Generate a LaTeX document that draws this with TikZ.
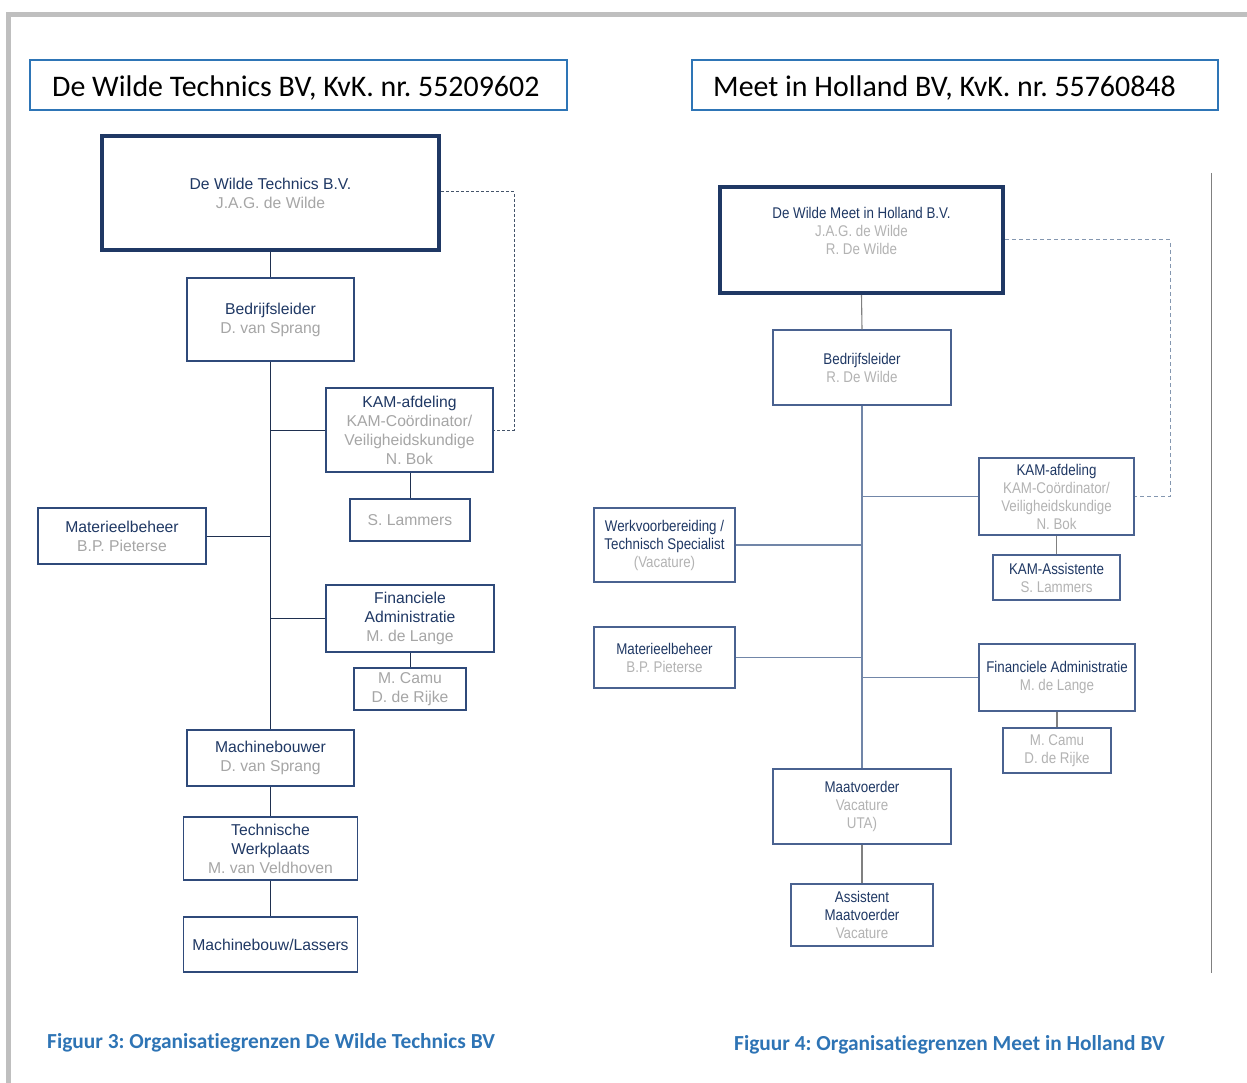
\documentclass[tikz,border=0pt]{standalone}
\usepackage{fontspec}
\setmainfont{Liberation Sans}
\newfontfamily\narrowfont{Liberation Sans}[FakeStretch=0.86]
\newfontfamily\calibrifont{Carlito}[Ligatures=NoCommon]
\frenchspacing
\definecolor{navytxt}{HTML}{1F3864}
\definecolor{graytxt}{HTML}{A6A6A6}
\definecolor{graytxtr}{HTML}{B3B3B3}
\definecolor{boxc}{HTML}{2F4A7A}
\definecolor{boxcr}{HTML}{4A6290}
\definecolor{thickc}{HTML}{1F3864}
\definecolor{titlec}{HTML}{2E75B6}
\definecolor{capc}{HTML}{2E74B5}
\definecolor{framec}{HTML}{BFBFBF}
\definecolor{linel}{HTML}{1F3050}
\definecolor{liner}{HTML}{7186A8}
\definecolor{lineg}{HTML}{808080}
\definecolor{dashl}{HTML}{44546A}
\definecolor{dashr}{HTML}{8497B0}
\newcommand\tnv[1]{\textcolor{navytxt}{#1}}
\newcommand\tgy[1]{\textcolor{graytxt}{#1}}
\newcommand\tgr[1]{\textcolor{graytxtr}{#1}}
\tikzset{
  wh/.style 2 args={minimum width=#1, minimum height=#2},
  lbox/.style={draw=boxc, line width=1.1, inner sep=0, align=center, fill=white,
    font=\fontsize{15.7}{19}\selectfont},
  rbox/.style={draw=boxcr, line width=1.1, inner sep=0, align=center, fill=white,
    font=\narrowfont\fontsize{15.5}{18}\selectfont},
  lthick/.style={lbox, draw=thickc, line width=4},
  rthick/.style={rbox, draw=thickc, line width=4},
  titlebox/.style={draw=titlec, line width=1.2, inner sep=0},
  titletext/.style={anchor=west, inner sep=0, font=\calibrifont\fontsize{29.9}{34}\selectfont},
  caption/.style={anchor=west, inner sep=0, text=capc,
    font=\calibrifont\bfseries\fontsize{21.4}{25}\selectfont},
  lconn/.style={draw=linel, line width=1},
  rconn/.style={draw=liner, line width=1.1},
  gconn/.style={draw=lineg, line width=1.1},
}
\begin{document}
\begin{tikzpicture}[x=1pt,y=-1pt]
\useasboundingbox (0,0) rectangle (1247,1083);
% frame
\fill[framec] (6,12) rectangle (11,1083);
\fill[framec] (6,12) rectangle (1247,17);

% titles
\node[titlebox, wh={537}{50}] (t1) at (298.5,85) {};
\node[titletext] (t1txt) at (52,88) {De Wilde Technics BV, KvK. nr. 55209602};
\node[titlebox, wh={526}{50}] (t2) at (955,85) {};
\node[titletext] (t2txt) at (713,88) {Meet in Holland BV, KvK. nr. 55760848};

% ===== left chart =====
\node[lthick, wh={337}{114}] (ltop) at (270.5,193) {\tnv{De Wilde Technics B.V.}\\\tgy{J.A.G. de Wilde}};
\node[lbox, wh={167}{83}] (lbl) at (270.5,319.5) {\tnv{Bedrijfsleider}\\\tgy{D. van Sprang}};
\node[lbox, wh={167}{84}] (lkam) at (409.5,430) {\tnv{KAM-afdeling}\\\tgy{KAM-Coördinator/}\\\tgy{Veiligheidskundige}\\\tgy{N. Bok}};
\node[lbox, wh={120}{42}] (llam) at (410,520) {\tgy{S. Lammers}};
\node[lbox, wh={168}{56}] (lmat) at (122,536) {\tnv{Materieelbeheer}\\\tgy{B.P. Pieterse}};
\node[lbox, wh={168}{67}] (lfin) at (410,618.5) {\tnv{Financiele}\\\tnv{Administratie}\\\tgy{M. de Lange}};
\node[lbox, wh={112}{42}] (lcam) at (410,689) {\tgy{M. Camu}\\\tgy{D. de Rijke}};
\node[lbox, wh={167}{56}] (lmach) at (270.5,758) {\tnv{Machinebouwer}\\\tgy{D. van Sprang}};
\node[lbox, wh={174}{63}] (ltw) at (270.5,848.5) {\tnv{Technische}\\\tnv{Werkplaats}\\\tgy{M. van Veldhoven}};
\node[lbox, wh={174}{55}] (llas) at (270.5,944.5) {\tnv{Machinebouw/Lassers}};
\coordinate (ldash) at (514,300);

\draw[lconn] (ltop.south) -- (lbl.north);
\draw[lconn] (lbl.south) -- (lmach.north);
\draw[lconn] (lkam.west) -- (lkam.west -| lbl.south);
\draw[lconn] (lmat.east) -- (lmat.east -| lbl.south);
\draw[lconn] (lfin.west) -- (lfin.west -| lbl.south);
\draw[lconn] (llam.north) -- (llam.north |- lkam.south);
\draw[lconn] (lcam.north) -- (lcam.north |- lfin.south);
\draw[lconn] (lmach.south) -- (ltw.north);
\draw[lconn] (ltw.south) -- (llas.north);
\draw[draw=dashl, line width=1, dash pattern=on 3pt off 2pt] (ltop.east |- 0,192) -- (ldash |- 0,192) |- (lkam.east);

% ===== right chart =====
\node[rthick, wh={283}{106}] (rtop) at (861.5,240) {\tnv{De Wilde Meet in Holland B.V.}\\\tgr{J.A.G. de Wilde}\\\tgr{R. De Wilde}\\\mbox{}};
\node[rbox, wh={178}{75}] (rbl) at (862,367.5) {\tnv{Bedrijfsleider}\\\tgr{R. De Wilde}};
\node[rbox, wh={155}{77}] (rkam) at (1056.5,496.5) {\tnv{KAM-afdeling}\\\tgr{KAM-Coördinator/}\\\tgr{Veiligheidskundige}\\\tgr{N. Bok}};
\node[rbox, wh={127}{45}] (rass) at (1056.5,577.5) {\tnv{KAM-Assistente}\\\tgr{S. Lammers}};
\node[rbox, wh={141}{74}] (rwv) at (664.5,545) {\tnv{Werkvoorbereiding /}\\\tnv{Technisch Specialist}\\\tgr{(Vacature)}};
\node[rbox, wh={141}{61}] (rmat) at (664.5,657.5) {\tnv{Materieelbeheer}\\\tgr{B.P. Pieterse}};
\node[rbox, wh={156}{67}] (rfin) at (1057,677.5) {\tnv{Financiele Administratie}\\\tgr{M. de Lange}};
\node[rbox, wh={108}{45}] (rcam) at (1057,750.5) {\tgr{M. Camu}\\\tgr{D. de Rijke}};
\node[rbox, wh={178}{75}] (rmaat) at (862,806.5) {\tnv{Maatvoerder}\\\tgr{Vacature}\\\tgr{UTA)}};
\node[rbox, wh={142}{62}] (rassm) at (862,915) {\tnv{Assistent}\\\tnv{Maatvoerder}\\\tgr{Vacature}};
\coordinate (rdash) at (1170,300);
\coordinate (vtop) at (1211,173);
\coordinate (vbot) at (1211,973);

\draw[gconn] (rtop.south) -- (rbl.north);
\draw[rconn] (rbl.south) -- (rmaat.north);
\draw[rconn] (rkam.west) -- (rkam.west -| rbl.south);
\draw[rconn] (rwv.east) -- (rwv.east -| rbl.south);
\draw[rconn] (rmat.east) -- (rmat.east -| rbl.south);
\draw[rconn] (rfin.west) -- (rfin.west -| rbl.south);
\draw[gconn] (rass.north) -- (rass.north |- rkam.south);
\draw[gconn] (rcam.north) -- (rcam.north |- rfin.south);
\draw[gconn] (rmaat.south) -- (rassm.north);
\draw[draw=dashr, line width=1, dash pattern=on 4pt off 3pt] (rtop.east) -- (rtop.east -| rdash) |- (rkam.east);
\draw[draw=lineg, line width=1] (vtop) -- (vbot);

% captions
\node[caption] (c1) at (47,1043) {Figuur 3: Organisatiegrenzen De Wilde Technics BV};
\node[caption] (c2) at (734,1045) {Figuur 4: Organisatiegrenzen Meet in Holland BV};
\end{tikzpicture}
\end{document}
